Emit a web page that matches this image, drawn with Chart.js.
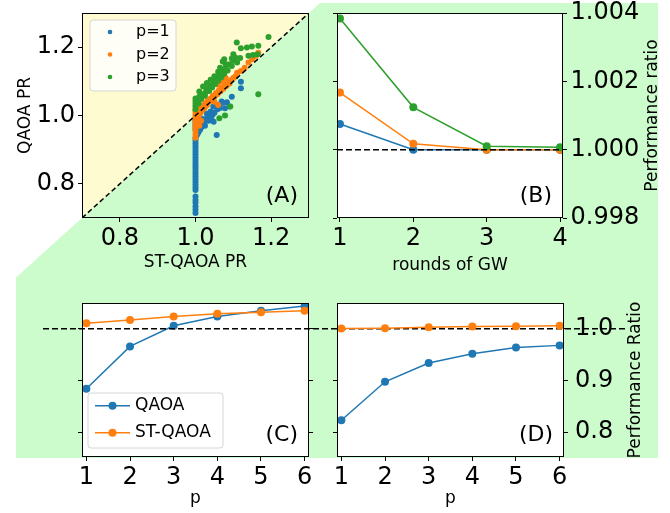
<!DOCTYPE html>
<html>
<head>
<meta charset="utf-8">
<script src="https://cdn.jsdelivr.net/npm/chart.js@4.4.1/dist/chart.umd.min.js"></script>
<style>
  body { margin: 0; background: #fff; }
  #wrap { position: relative; width: 670px; height: 513px; }
  canvas { position: absolute; left: 0; top: 0; }
</style>
</head>
<body>
<div id="wrap">
  <canvas id="chartA" width="670" height="513"></canvas>
  <canvas id="chartB" width="670" height="513"></canvas>
  <canvas id="chartC" width="670" height="513"></canvas>
  <canvas id="chartD" width="670" height="513"></canvas>
</div>
<script>
// ---- data ----

// (A) ST-QAOA PR (x) against QAOA PR (y)
const scatterLabels = ['p=1', 'p=2', 'p=3'];
const scatterP1 = [
  [1.0,0.715],[1.0,0.724],[1.0,0.734],[1.0,0.745],[1.0,0.753],[1.0,0.763],[1.0,0.782],[1.0,0.79],
  [1.0,0.798],[1.0,0.806],[1.0,0.814],[1.0,0.822],[1.0,0.83],[1.0,0.838],[1.0,0.846],[1.0,0.854],
  [1.0,0.862],[1.0,0.87],[1.0,0.878],[1.0,0.886],[1.0,0.894],[1.0,0.902],[1.0,0.91],[1.0,0.918],
  [1.0,0.926],[1.0,0.934],[1.002,0.94],[1.003,0.948],[1.004,0.955],[1.0,0.96],[1.0,0.968],[1.0,0.976],
  [1.0,0.984],[1.0,0.992],[1.006,0.962],[1.01,0.97],[1.012,0.978],[1.015,0.965],[1.02,0.975],
  [1.022,0.983],[1.018,0.99],[1.028,0.985],[1.03,0.992],[1.035,0.995],[1.04,0.998],[1.045,1.002],
  [1.05,1.008],[1.008,0.952],[1.005,0.945],[1.012,0.958],[1.025,0.97],[1.035,0.985],[1.042,0.99],
  [1.048,0.982],[1.056,0.943],[1.047,1.026],[1.052,1.03],[1.063,1.031],[1.069,1.041],[1.078,1.021],
  [1.083,1.039],[1.09,1.026],[1.096,1.055],[1.073,1.037],[1.058,1.018],[1.065,1.022],[1.12,1.08],
  [1.12,1.099],[1.04,1.012],[1.03,1.005]
];
const scatterP2 = [
  [1.0,0.935],[1.0,0.945],[1.0,0.955],[1.0,0.963],[1.0,0.971],[1.0,0.979],[1.0,0.987],[1.0,0.995],
  [1.0,1.003],[1.0,1.011],[1.0,1.016],[1.005,1.0],[1.008,1.012],[1.01,1.02],[1.012,1.005],
  [1.015,1.025],[1.018,1.015],[1.02,1.03],[1.024,1.022],[1.026,1.036],[1.03,1.03],[1.032,1.044],
  [1.036,1.04],[1.04,1.05],[1.044,1.046],[1.046,1.058],[1.05,1.055],[1.054,1.066],[1.058,1.062],
  [1.062,1.074],[1.066,1.07],[1.07,1.082],[1.074,1.078],[1.078,1.09],[1.082,1.086],[1.086,1.098],
  [1.09,1.094],[1.095,1.104],[1.1,1.11],[1.105,1.114],[1.11,1.125],[1.12,1.13],[1.13,1.14],
  [1.14,1.155],[1.15,1.165],[1.16,1.175],[1.166,1.184],[1.153,1.172],[1.06,1.031],[1.05,1.04],
  [1.01,0.97],[1.015,0.985],[1.008,0.99],[1.07,1.1],[1.08,1.11],[1.06,1.09]
];
const scatterP3 = [
  [1.0,1.018],[1.0,1.026],[1.0,1.034],[1.0,1.042],[1.0,1.05],[1.006,1.045],[1.008,1.035],[1.01,1.055],
  [1.015,1.048],[1.02,1.062],[1.025,1.058],[1.028,1.07],[1.032,1.078],[1.036,1.072],[1.04,1.088],
  [1.044,1.082],[1.048,1.098],[1.052,1.092],[1.056,1.108],[1.06,1.102],[1.064,1.118],[1.068,1.112],
  [1.072,1.128],[1.076,1.122],[1.08,1.138],[1.085,1.132],[1.09,1.15],[1.096,1.145],[1.1,1.16],
  [1.105,1.17],[1.11,1.155],[1.1,1.179],[1.118,1.168],[1.14,1.175],[1.152,1.177],[1.164,1.179],
  [1.109,1.214],[1.12,1.197],[1.136,1.199],[1.149,1.202],[1.166,1.204],[1.193,1.23],[1.166,1.062],
  [1.092,1.026],[1.078,1.0],[1.063,0.992],[1.01,1.07],[1.02,1.085],[1.03,1.095],[1.04,1.105],
  [1.05,1.115],[1.06,1.128],[1.065,1.14],[1.072,1.158],[1.076,1.165],[1.08,1.15],[1.096,1.167]
];
const prRange = [0.7, 1.3];
const prTicks = [0.8, 1.0, 1.2];

// (B) performance ratio vs rounds of GW
const gwRounds = [1, 2, 3, 4];
const gwP1 = [1.00075, 1.0, 1.0, 1.0];
const gwP2 = [1.00167, 1.00017, 1.0, 1.0];
const gwP3 = [1.00384, 1.00124, 1.0001, 1.00007];
const gwTicks = [0.998, 1.000, 1.002, 1.004];

// (C), (D) performance ratio vs p
const depth = [1, 2, 3, 4, 5, 6];
const seriesNames = ['QAOA', 'ST-QAOA'];
const qaoaC = [0.884, 0.966, 1.006, 1.024, 1.035, 1.044];
const stqaoaC = [1.011, 1.017, 1.024, 1.029, 1.032, 1.035];
const qaoaD = [0.823, 0.8975, 0.934, 0.952, 0.964, 0.968];
const stqaoaD = [1.0005, 1.001, 1.003, 1.0045, 1.005, 1.006];
const ratioTicks = [0.8, 0.9, 1.0];

// ---- look ----
const BLUE = '#1f77b4', ORANGE = '#ff7f0e', GREEN = '#2ca02c';
const GREEN_BG = '#ccfbcc', YELLOW_BG = '#fffbd0';
const BG = { left: 16, top: 3, right: 658, bottom: 458 };   // green backdrop
const FAM = "'DejaVu Sans', sans-serif";

Chart.defaults.font.family = FAM;
Chart.defaults.color = '#000';
Chart.defaults.animation = false;

function fixTicks(values) {
  return scale => { scale.ticks = values.map(v => ({ value: v })); };
}
function fixSize(w, h) {
  return scale => {
    if (w !== null) scale.width = w;
    if (h !== null) scale.height = h;
    scale.paddingLeft = scale.paddingRight = scale.paddingTop = scale.paddingBottom = 0;
  };
}
function makeAxis(o) {
  const horiz = o.position === 'bottom';
  return {
    type: 'linear',
    position: o.position,
    min: o.min, max: o.max,
    afterBuildTicks: fixTicks(o.ticks),
    afterFit: horiz ? fixSize(null, o.size) : fixSize(o.size, null),
    grid: { drawOnChartArea: false, drawTicks: true, tickLength: 4, color: '#000', lineWidth: 1 },
    border: { display: false },
    ticks: {
      display: !!o.fmt, font: { size: 24 }, padding: o.pad ?? 2,
      callback: o.fmt || (() => ''), maxRotation: 0, autoSkip: false
    },
    title: o.title ? { display: true, text: o.title, font: { size: 17 }, padding: 0 } : { display: false }
  };
}

function pts(xs, ys) { return xs.map((x, i) => ({ x: x, y: ys[i] })); }

function lineSet(label, data, color, order) {
  return {
    label: label, data: data, order: order,
    borderColor: color, backgroundColor: color, borderWidth: 1.5,
    pointRadius: 4, pointBorderWidth: 0, pointBackgroundColor: color, pointHoverRadius: 4
  };
}

// ---- drawing helpers ----
function drawFrame(chart) {
  const { ctx, chartArea: a } = chart;
  ctx.save();
  ctx.strokeStyle = '#000';
  ctx.lineWidth = 1;
  ctx.strokeRect(Math.round(a.left) + 0.5, Math.round(a.top) + 0.5,
    Math.round(a.right - a.left) - 1, Math.round(a.bottom - a.top) - 1);
  ctx.restore();
}
function whiteArea(chart) {
  const { ctx, chartArea: a } = chart;
  ctx.save();
  ctx.fillStyle = '#fff';
  ctx.fillRect(a.left, a.top, a.right - a.left, a.bottom - a.top);
  ctx.restore();
}
function panelLabel(chart, text) {
  const { ctx, chartArea: a } = chart;
  ctx.save();
  ctx.font = '22px ' + FAM;
  ctx.fillStyle = '#000';
  ctx.textAlign = 'right';
  ctx.textBaseline = 'middle';
  ctx.fillText(text, a.right - 11, a.bottom - 22);
  ctx.restore();
}
function rightTitle(chart, text, dx) {
  const { ctx, chartArea: a } = chart;
  ctx.save();
  ctx.translate(a.right + dx, (a.top + a.bottom) / 2);
  ctx.rotate(-Math.PI / 2);
  ctx.font = '17px ' + FAM;
  ctx.fillStyle = '#000';
  ctx.textAlign = 'center';
  ctx.textBaseline = 'middle';
  ctx.fillText(text, 0, 0);
  ctx.restore();
}
function dashedH(ctx, y, x0, x1) {
  ctx.save();
  ctx.strokeStyle = '#000';
  ctx.lineWidth = 1.5;
  ctx.setLineDash([6, 3]);
  ctx.beginPath();
  ctx.moveTo(x0, y);
  ctx.lineTo(x1, y);
  ctx.stroke();
  ctx.restore();
}
function legendBox(ctx, x, y, w, h) {
  const r = 3;
  ctx.save();
  ctx.beginPath();
  ctx.moveTo(x + r, y);
  ctx.arcTo(x + w, y, x + w, y + h, r);
  ctx.arcTo(x + w, y + h, x, y + h, r);
  ctx.arcTo(x, y + h, x, y, r);
  ctx.arcTo(x, y, x + w, y, r);
  ctx.closePath();
  ctx.fillStyle = 'rgba(255,255,255,0.8)';
  ctx.fill();
  ctx.strokeStyle = '#d6d6d6';
  ctx.lineWidth = 1;
  ctx.stroke();
  ctx.restore();
}

// ---- (A) ----
const plugA = {
  id: 'panelA',
  beforeDraw(chart) {
    // green backdrop, its slanted edge follows the y = x line of panel A
    const { ctx } = chart;
    const sx = chart.scales.x, sy = chart.scales.y;
    const x0 = sx.getPixelForValue(prRange[0]), y0 = sy.getPixelForValue(prRange[0]);
    const x1 = sx.getPixelForValue(prRange[1]), y1 = sy.getPixelForValue(prRange[1]);
    const slope = (y1 - y0) / (x1 - x0);
    ctx.save();
    ctx.fillStyle = GREEN_BG;
    ctx.beginPath();
    ctx.moveTo(x0 + (BG.top - y0) / slope, BG.top);
    ctx.lineTo(BG.right, BG.top);
    ctx.lineTo(BG.right, BG.bottom);
    ctx.lineTo(BG.left, BG.bottom);
    ctx.lineTo(BG.left, y0 + (BG.left - x0) * slope);
    ctx.closePath();
    ctx.fill();
    ctx.restore();
  },
  afterDraw(chart) {
    const { ctx, chartArea: a } = chart;
    drawFrame(chart);
    panelLabel(chart, '(A)');
    const bx = a.left + 8, by = a.top + 7;
    legendBox(ctx, bx, by, 86, 71);
    const cols = [BLUE, ORANGE, GREEN];
    ctx.save();
    ctx.font = '16px ' + FAM;
    ctx.textBaseline = 'middle';
    scatterLabels.forEach((lab, i) => {
      const cy = by + 12 + i * 22.5;
      ctx.fillStyle = cols[i];
      ctx.beginPath();
      ctx.arc(bx + 20, cy, 2.3, 0, Math.PI * 2);
      ctx.fill();
      ctx.fillStyle = '#000';
      ctx.fillText(lab, bx + 46, cy);
    });
    ctx.restore();
  }
};

function scatterSet(label, pairs, color, order) {
  return {
    label: label, order: order,
    data: pairs.map(p => ({ x: p[0], y: p[1] })),
    backgroundColor: color, borderColor: color,
    pointRadius: 3, pointBorderWidth: 0, pointHoverRadius: 3
  };
}

new Chart(document.getElementById('chartA'), {
  type: 'scatter',
  data: {
    datasets: [
      scatterSet(scatterLabels[0], scatterP1, BLUE, 3),
      scatterSet(scatterLabels[1], scatterP2, ORANGE, 2),
      scatterSet(scatterLabels[2], scatterP3, GREEN, 1),
      {
        label: 'diag', order: 0, showLine: true,
        data: [{ x: prRange[0], y: prRange[0] }, { x: prRange[1], y: prRange[1] }],
        borderColor: '#000', borderWidth: 1.5, borderDash: [5, 3],
        pointRadius: 0, fill: 'end', backgroundColor: YELLOW_BG
      }
    ]
  },
  options: {
    responsive: false, devicePixelRatio: 1, events: [],
    layout: { padding: { left: 15, right: 361, top: 13, bottom: 240.5 } },
    plugins: { legend: { display: false }, tooltip: { enabled: false }, filler: { drawTime: 'beforeDatasetsDraw' } },
    scales: {
      x: makeAxis({ position: 'bottom', min: prRange[0], max: prRange[1], ticks: prTicks, size: 54.5,
        fmt: v => v.toFixed(1), pad: 2, title: 'ST-QAOA PR' }),
      y: makeAxis({ position: 'left', min: prRange[0], max: prRange[1], ticks: prTicks, size: 67,
        fmt: v => v.toFixed(1), pad: 3, title: 'QAOA PR' })
    }
  },
  plugins: [plugA]
});

// ---- (B) ----
new Chart(document.getElementById('chartB'), {
  type: 'line',
  data: {
    datasets: [
      lineSet('p=1', pts(gwRounds, gwP1), BLUE, 2),
      lineSet('p=2', pts(gwRounds, gwP2), ORANGE, 1),
      lineSet('p=3', pts(gwRounds, gwP3), GREEN, 0)
    ]
  },
  options: {
    responsive: false, devicePixelRatio: 1, events: [],
    layout: { padding: { left: 327, right: 0, top: 13, bottom: 237.3 } },
    plugins: { legend: { display: false }, tooltip: { enabled: false } },
    scales: {
      x: makeAxis({ position: 'bottom', min: 0.96, max: 4.04, ticks: gwRounds, size: 57.7,
        fmt: v => String(v), pad: 2, title: 'rounds of GW' }),
      yl: makeAxis({ position: 'left', min: gwTicks[0], max: gwTicks[3], ticks: gwTicks, size: 10 }),
      y: makeAxis({ position: 'right', min: gwTicks[0], max: gwTicks[3], ticks: gwTicks, size: 107,
        fmt: v => v.toFixed(3), pad: 3.5 })
    }
  },
  plugins: [{
    id: 'panelB',
    beforeDraw: whiteArea,
    afterDatasetsDraw(chart) {
      const a = chart.chartArea;
      dashedH(chart.ctx, chart.scales.y.getPixelForValue(1.0), a.left, a.right);
    },
    afterDraw(chart) {
      drawFrame(chart);
      panelLabel(chart, '(B)');
      rightTitle(chart, 'Performance ratio', 90);
    }
  }]
});

// ---- (C) ----
new Chart(document.getElementById('chartC'), {
  type: 'line',
  data: {
    datasets: [
      lineSet(seriesNames[0], pts(depth, qaoaC), BLUE, 1),
      lineSet(seriesNames[1], pts(depth, stqaoaC), ORANGE, 0)
    ]
  },
  options: {
    responsive: false, devicePixelRatio: 1, events: [],
    layout: { padding: { left: 72, right: 351, top: 303, bottom: 4.6 } },
    plugins: { legend: { display: false }, tooltip: { enabled: false } },
    scales: {
      x: makeAxis({ position: 'bottom', min: 0.9, max: 6.1, ticks: depth, size: 51.4,
        fmt: v => String(v), pad: 2, title: 'p' }),
      y: makeAxis({ position: 'left', min: 0.752, max: 1.05, ticks: ratioTicks, size: 10 }),
      yr: makeAxis({ position: 'right', min: 0.752, max: 1.05, ticks: ratioTicks, size: 10 })
    }
  },
  plugins: [{
    id: 'panelC',
    beforeDraw: whiteArea,
    afterDraw(chart) {
      const { ctx, chartArea: a } = chart;
      drawFrame(chart);
      panelLabel(chart, '(C)');
      const bx = a.left + 6, by = a.bottom - 64;
      legendBox(ctx, bx, by, 135, 55);
      const cols = [BLUE, ORANGE];
      ctx.save();
      ctx.font = '17px ' + FAM;
      ctx.textBaseline = 'middle';
      seriesNames.forEach((name, i) => {
        const cy = by + 12.7 + i * 27;
        ctx.strokeStyle = cols[i];
        ctx.lineWidth = 1.5;
        ctx.beginPath();
        ctx.moveTo(bx + 7, cy);
        ctx.lineTo(bx + 42, cy);
        ctx.stroke();
        ctx.fillStyle = cols[i];
        ctx.beginPath();
        ctx.arc(bx + 24.5, cy, 4, 0, Math.PI * 2);
        ctx.fill();
        ctx.fillStyle = '#000';
        ctx.fillText(name, bx + 47, cy);
      });
      ctx.restore();
    }
  }]
});

// ---- (D) ----
new Chart(document.getElementById('chartD'), {
  type: 'line',
  data: {
    datasets: [
      lineSet(seriesNames[0], pts(depth, qaoaD), BLUE, 1),
      lineSet(seriesNames[1], pts(depth, stqaoaD), ORANGE, 0)
    ]
  },
  options: {
    responsive: false, devicePixelRatio: 1, events: [],
    layout: { padding: { left: 327, right: 0, top: 303, bottom: 4.6 } },
    plugins: { legend: { display: false }, tooltip: { enabled: false } },
    scales: {
      x: makeAxis({ position: 'bottom', min: 0.9, max: 6.1, ticks: depth, size: 51.4,
        fmt: v => String(v), pad: 2, title: 'p' }),
      yl: makeAxis({ position: 'left', min: 0.752, max: 1.05, ticks: ratioTicks, size: 10 }),
      y: makeAxis({ position: 'right', min: 0.752, max: 1.05, ticks: ratioTicks, size: 106,
        fmt: v => v.toFixed(1), pad: 7 })
    }
  },
  plugins: [{
    id: 'panelD',
    beforeDraw: whiteArea,
    beforeDatasetsDraw(chart) {
      // reference line at ratio 1.0 runs across both bottom panels
      dashedH(chart.ctx, chart.scales.y.getPixelForValue(1.0), 43, 628);
    },
    afterDraw(chart) {
      drawFrame(chart);
      panelLabel(chart, '(D)');
      rightTitle(chart, 'Performance Ratio', 72);
    }
  }]
});
</script>
</body>
</html>
